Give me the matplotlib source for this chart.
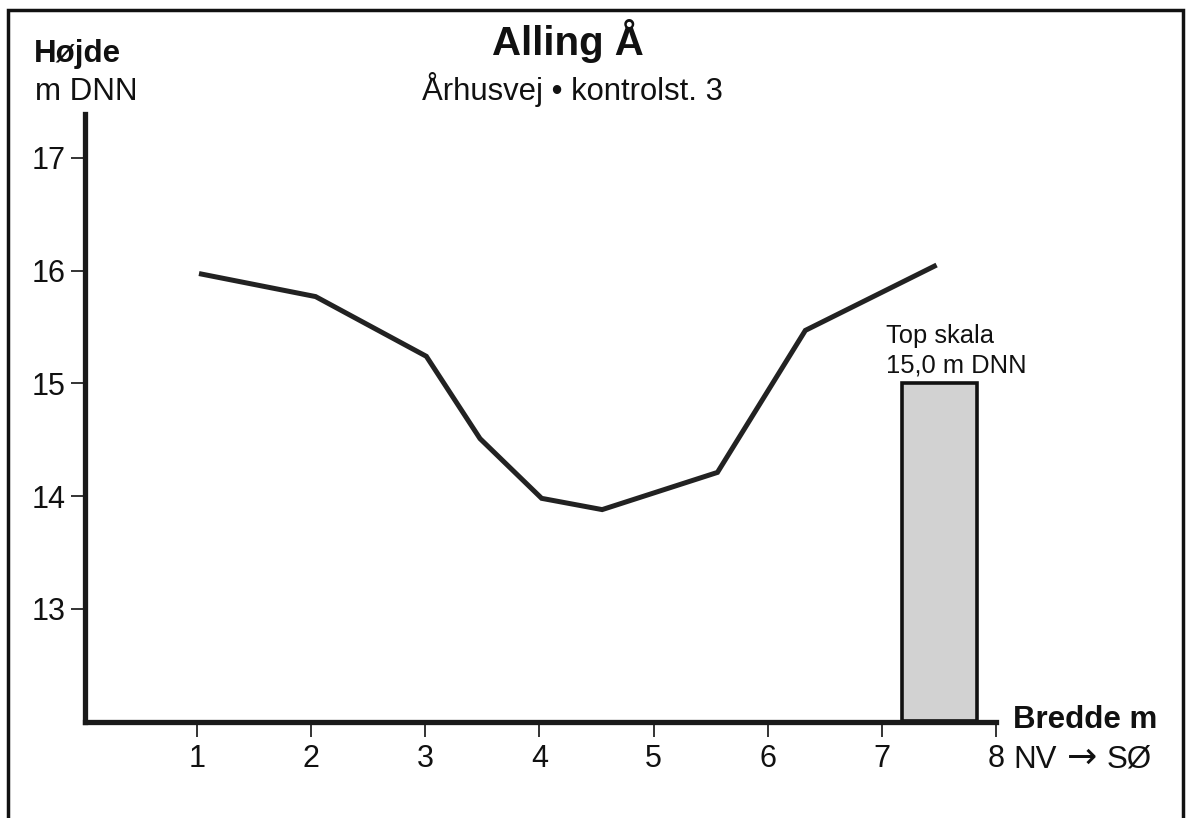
import matplotlib
matplotlib.use("Agg")
import matplotlib.pyplot as plt
from matplotlib.patches import Rectangle

plt.rcParams['font.family'] = ['Liberation Sans', 'DejaVu Sans']

# Data
bredde = [1.04, 2.04, 3.01, 3.48, 4.02, 4.55, 5.56, 6.33, 7.46]
hoejde = [15.97, 15.77, 15.24, 14.51, 13.98, 13.88, 14.21, 15.47, 16.04]
skala_x0 = 7.18
skala_x1 = 7.83
skala_top = 15.0
x_ticks = [1, 2, 3, 4, 5, 6, 7, 8]
y_ticks = [13, 14, 15, 16, 17]

W, H = 1186, 818
fig = plt.figure(figsize=(W / 100, H / 100), dpi=100)

def fx(px):
    return px / W

def fy(py):
    return 1 - py / H

left_px, right_px, top_px, bot_px = 85, 996, 114, 721.5
ax = fig.add_axes([fx(left_px), fy(bot_px), fx(right_px) - fx(left_px), fy(top_px) - fy(bot_px)])
ax.set_xlim(0.02, 8)
ax.set_ylim(12.0, 17.39)

ax.plot(bredde, hoejde, color='#222222', lw=3.6, solid_joinstyle='miter', zorder=3)
ax.bar((skala_x0 + skala_x1) / 2, skala_top - 12.0, bottom=12.0, width=skala_x1 - skala_x0,
       color='#d2d2d2', edgecolor='#111111', linewidth=2.6, zorder=2)

for s in ['top', 'right']:
    ax.spines[s].set_visible(False)
for s in ['left', 'bottom']:
    ax.spines[s].set_linewidth(3.8)
    ax.spines[s].set_color('#1a1a1a')
    ax.spines[s].set_capstyle('projecting')

ax.set_xticks(x_ticks)
ax.set_xticklabels([str(t) for t in x_ticks])
ax.set_yticks(y_ticks)
ax.set_yticklabels([str(t) for t in y_ticks])
ax.tick_params(axis='x', direction='out', length=11, width=1.2, pad=5, labelsize=22, colors='#111111')
ax.tick_params(axis='y', direction='out', length=10, width=1.2, pad=4, labelsize=22, colors='#111111')
ax.patch.set_visible(False)

# Texts
fig.text(fx(34), fy(62), 'Højde', fontsize=22.5, fontweight='bold', va='baseline', ha='left', color='#111111')
fig.text(fx(35), fy(100), 'm DNN', fontsize=22.5, va='baseline', ha='left', color='#111111')
fig.text(fx(568), fy(55), 'Alling Å', fontsize=29, fontweight='bold', va='baseline', ha='center', color='#111111')
fig.text(fx(572), fy(100), 'Århusvej • kontrolst. 3', fontsize=22.3, va='baseline', ha='center', color='#111111')
fig.text(fx(1013), fy(728), 'Bredde m', fontsize=22.5, fontweight='bold', va='baseline', ha='left', color='#111111')
fig.text(fx(1013), fy(768), 'NV', fontsize=22.5, va='baseline', ha='left', color='#111111')
fig.text(fx(1082), fy(768), '→', fontsize=26, family='DejaVu Sans', va='baseline', ha='center', color='#111111')
fig.text(fx(1107), fy(768), 'SØ', fontsize=22.5, va='baseline', ha='left', color='#111111')
fig.text(fx(886), fy(343), 'Top skala', fontsize=18.4, va='baseline', ha='left', color='#111111')
fig.text(fx(886), fy(372), '15,0 m DNN', fontsize=18.4, va='baseline', ha='left', color='#111111')

# Frame
frame = Rectangle((fx(8), fy(860)), fx(1183) - fx(8), fy(10) - fy(860), transform=fig.transFigure,
                  fill=False, edgecolor='#111111', linewidth=2.5)
fig.patches.append(frame)

fig.savefig('out.png', dpi=100)
